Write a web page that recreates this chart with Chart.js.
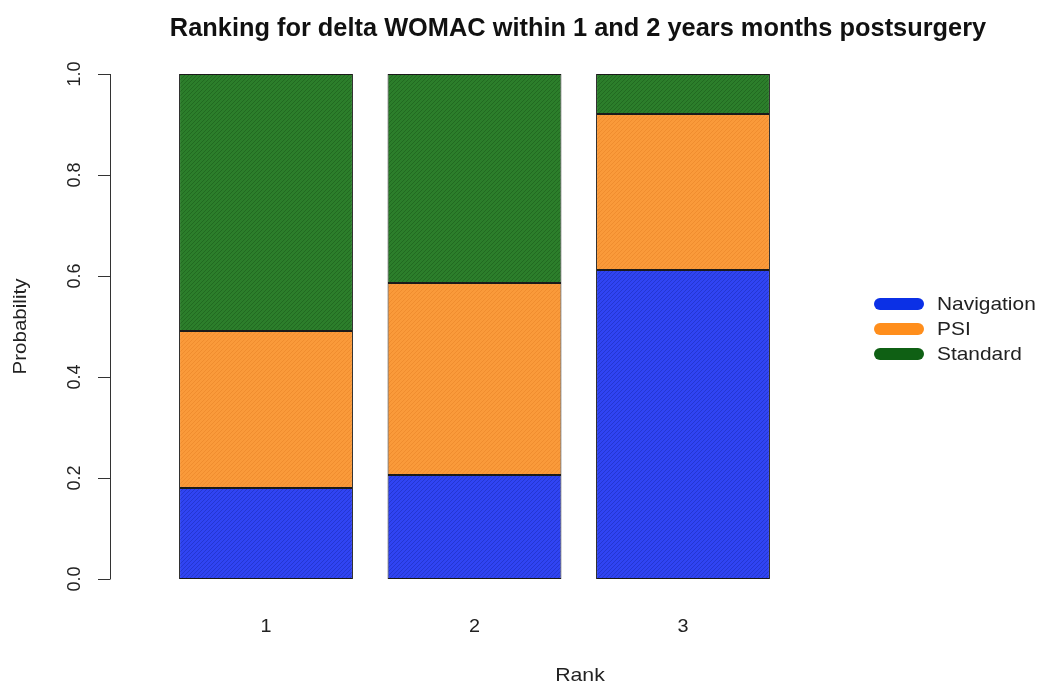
<!DOCTYPE html>
<html>
<head>
<meta charset="utf-8">
<script src="https://cdn.jsdelivr.net/npm/chart.js@4/dist/chart.umd.min.js"></script>
<style>
html,body{margin:0;padding:0;background:#fff;}
#wrap{width:1041px;height:686px;position:relative;}
</style>
</head>
<body>
<div id="wrap"><canvas id="c" width="1041" height="686"></canvas></div>
<script>
// ---- data ----
const ranks = ['1', '2', '3'];
const navigation = [0.180, 0.206, 0.612];
const psi = [0.311, 0.380, 0.309];
const standard = [0.509, 0.414, 0.079];
const seriesNames = ['Navigation', 'PSI', 'Standard'];
const yTicks = [0.0, 0.2, 0.4, 0.6, 0.8, 1.0];
const titleText = 'Ranking for delta WOMAC within 1 and 2 years months postsurgery';
const xTitle = 'Rank';
const yTitle = 'Probability';

// ---- styles ----
const fillBase = ['#3044f2', '#fa9a3a', '#2c7e2b'];
const fillLine = ['#2233c8', '#ee8a2c', '#1f6520'];
const legendCols = ['#0b30e6', '#ff8e1c', '#0f6014'];

function hatch(bg, fg) {
  const c = document.createElement('canvas');
  c.width = 4; c.height = 4;
  const g = c.getContext('2d');
  g.fillStyle = bg; g.fillRect(0, 0, 4, 4);
  g.strokeStyle = fg; g.lineWidth = 0.8;
  g.beginPath();
  g.moveTo(0, 4); g.lineTo(4, 0);
  g.moveTo(-1, 1); g.lineTo(1, -1);
  g.moveTo(3, 5); g.lineTo(5, 3);
  g.stroke();
  return document.getElementById('c').getContext('2d').createPattern(c, 'repeat');
}

const FONT = '"Liberation Sans", Arial, sans-serif';

function txt(ctx, s, x, y, sx, rot) {
  ctx.save();
  ctx.translate(x, y);
  if (rot) ctx.rotate(rot);
  ctx.scale(sx, 1);
  ctx.fillText(s, 0, 0);
  ctx.restore();
}

const decor = {
  id: 'decor',
  afterDraw(chart) {
    const ctx = chart.ctx;
    const ys = chart.scales.y, xs = chart.scales.x;
    const axX = 110;
    ctx.save();
    ctx.strokeStyle = '#333'; ctx.lineWidth = 1;
    // y axis
    ctx.beginPath();
    ctx.moveTo(axX + 0.5, ys.getPixelForValue(yTicks[0]));
    ctx.lineTo(axX + 0.5, ys.getPixelForValue(yTicks[yTicks.length - 1]));
    yTicks.forEach(v => {
      const p = Math.round(ys.getPixelForValue(v)) + 0.5;
      ctx.moveTo(axX + 0.5, p); ctx.lineTo(axX - 12, p);
    });
    ctx.stroke();
    // y tick labels rotated
    ctx.fillStyle = '#222';
    ctx.font = '18px ' + FONT;
    ctx.textAlign = 'center'; ctx.textBaseline = 'middle';
    yTicks.forEach(v => {
      txt(ctx, v.toFixed(1), 75, ys.getPixelForValue(v), 1, -Math.PI / 2);
    });
    // x tick labels
    ranks.forEach((r, i) => {
      txt(ctx, r, xs.getPixelForValue(i), 627, 1.1);
    });
    // axis titles
    ctx.font = '19px ' + FONT;
    txt(ctx, xTitle, 580, 676, 1.12);
    txt(ctx, yTitle, 21, (ys.top + ys.bottom) / 2, 1.08, -Math.PI / 2);
    // title
    ctx.font = 'bold 25px ' + FONT;
    ctx.fillStyle = '#111';
    txt(ctx, titleText, 578, 29, 1.015);
    // legend
    ctx.lineCap = 'round'; ctx.lineWidth = 12;
    ctx.font = '19px ' + FONT; ctx.textAlign = 'left';
    const ly = [304, 329, 354];
    seriesNames.forEach((n, i) => {
      ctx.strokeStyle = legendCols[i];
      ctx.beginPath(); ctx.moveTo(880, ly[i]); ctx.lineTo(918, ly[i]); ctx.stroke();
      ctx.fillStyle = '#222';
      txt(ctx, n, 937, ly[i] + 1, 1.1);
    });
    ctx.restore();
  }
};

const seriesData = [navigation, psi, standard];
new Chart(document.getElementById('c'), {
  type: 'bar',
  data: {
    labels: ranks,
    datasets: seriesNames.map((n, i) => ({
      label: n,
      data: seriesData[i],
      backgroundColor: hatch(fillBase[i], fillLine[i]),
      borderColor: '#1a1a1a',
      borderWidth: 1,
      borderSkipped: false,
      barPercentage: 0.834,
      categoryPercentage: 1.0
    }))
  },
  options: {
    responsive: false,
    animation: false,
    events: [],
    layout: { padding: { left: 161.75, right: 253.75, top: 74, bottom: 107 } },
    plugins: { legend: { display: false }, title: { display: false }, tooltip: { enabled: false } },
    scales: {
      x: { stacked: true, display: false, offset: true },
      y: { stacked: true, display: false, min: 0, max: 1 }
    }
  },
  plugins: [decor]
});
</script>
</body>
</html>
